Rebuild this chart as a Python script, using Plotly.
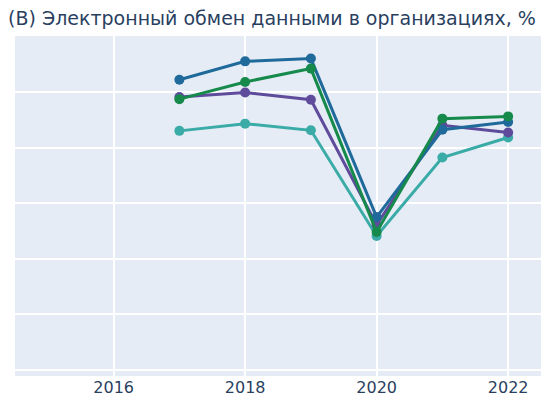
import plotly.graph_objects as go

# Years and series values (share of organisations, %)
years = [2017, 2018, 2019, 2020, 2021, 2022]

series_teal = [53.0, 54.3, 53.1, 34.1, 48.2, 51.8]
series_purple = [59.1, 59.9, 58.6, 36.1, 54.0, 52.7]
series_blue = [62.2, 65.5, 66.0, 37.5, 53.2, 54.6]
series_green = [58.7, 61.8, 64.2, 34.8, 55.2, 55.6]

x_ticks = [2016, 2018, 2020, 2022]
y_grid = [10, 20, 30, 40, 50, 60]

traces = [
    (series_teal, "#3aaba6"),
    (series_purple, "#5e4b9b"),
    (series_blue, "#1f6a9a"),
    (series_green, "#168a4b"),
]

fig = go.Figure()
for values, color in traces:
    fig.add_trace(go.Scatter(
        x=years, y=values, mode="lines+markers",
        line=dict(color=color, width=3),
        marker=dict(color=color, size=10),
        showlegend=False,
    ))

fig.update_layout(
    width=550, height=400,
    template="plotly",
    margin=dict(l=15, r=9, t=36, b=24),
    font=dict(family="DejaVu Sans", size=16, color="#2a3f5f"),
    title=dict(
        text="(В) Электронный обмен данными в организациях, %",
        x=8 / 550, xanchor="left", xref="container",
        y=1 - 18 / 400, yanchor="middle", yref="container",
        font=dict(family="DejaVu Sans", size=19, color="#2a3f5f"),
    ),
    plot_bgcolor="#E5ECF6",
)
fig.update_xaxes(range=[2014.5, 2022.5], tickvals=x_ticks, automargin=False,
                 gridcolor="white", gridwidth=2, zeroline=False)
fig.update_yaxes(range=[8.92, 70.06], tickvals=y_grid, showticklabels=False,
                 automargin=False, gridcolor="white", gridwidth=2, zeroline=False)

fig.write_html("out.html")
